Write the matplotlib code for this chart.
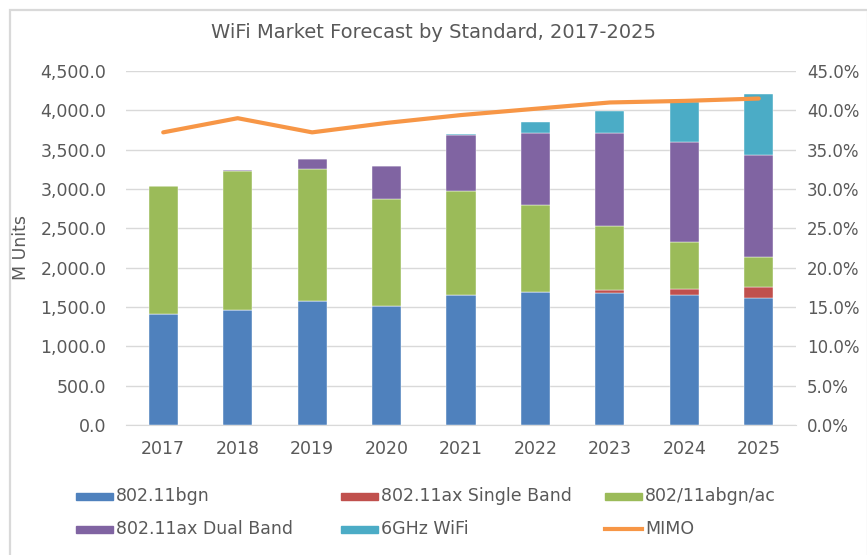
import matplotlib
matplotlib.use("Agg")
import matplotlib.pyplot as plt
import numpy as np
from matplotlib.patches import Rectangle
from matplotlib.lines import Line2D
from matplotlib.ticker import FuncFormatter

years = ["2017", "2018", "2019", "2020", "2021", "2022", "2023", "2024", "2025"]
bgn = [1415, 1466, 1571, 1508, 1653, 1686, 1678, 1653, 1618]
ax_single = [0, 0, 0, 0, 0, 0, 33, 80, 140]
abgn_ac = [1627, 1758, 1687, 1369, 1322, 1111, 814, 593, 378]
ax_dual = [0, 13, 127, 415, 712, 910, 1182, 1276, 1296]
wifi6ghz = [0, 0, 0, 0, 12, 149, 280, 499, 780]
mimo = [37.2, 39.0, 37.2, 38.4, 39.4, 40.2, 41.0, 41.2, 41.5]

series = [
    ("802.11bgn", bgn, "#4f81bd"),
    ("802.11ax Single Band", ax_single, "#c0504d"),
    ("802/11abgn/ac", abgn_ac, "#9bbb59"),
    ("802.11ax Dual Band", ax_dual, "#8064a2"),
    ("6GHz WiFi", wifi6ghz, "#4bacc6"),
]
mimo_color = "#f79646"
txt = "#595959"
font = "DejaVu Sans"
fs = 12.5

W, H = 867, 555
fig = plt.figure(figsize=(W / 100, H / 100), dpi=100)
fig.patch.set_facecolor("white")
fig.add_artist(Rectangle((10 / W, -0.01), (W - 9) / W, (H - 10) / H + 0.01, transform=fig.transFigure,
                         fill=False, edgecolor="#d9d9d9", linewidth=1.6))

ax = fig.add_axes([126 / W, (H - 425) / H, (796 - 126) / W, (425 - 71) / H])
x = np.arange(len(years))
bottom = np.zeros(len(years))
for name, vals, col in series:
    v = np.array(vals, dtype=float)
    ax.bar(x, v, 0.39, bottom=bottom, color=col, edgecolor="white", linewidth=0.3, zorder=3)
    bottom += v

ax.set_xlim(-0.5, len(years) - 0.5)
ax.set_ylim(0, 4500)
ax.set_yticks(np.arange(0, 4501, 500))
ax.yaxis.set_major_formatter(FuncFormatter(lambda v, p: f"{v:,.1f}"))
ax.set_xticks(x)
ax.set_xticklabels(years)
ax.grid(axis="y", color="#d9d9d9", linewidth=1, zorder=0)
for s in ["top", "right", "left"]:
    ax.spines[s].set_visible(False)
ax.spines["bottom"].set_color("#d9d9d9")
ax.tick_params(axis="both", length=0, colors=txt, labelsize=fs)
ax.tick_params(axis="x", pad=11)
ax.tick_params(axis="y", pad=14)
for lab in ax.get_xticklabels() + ax.get_yticklabels():
    lab.set_fontfamily(font)
ax.set_ylabel("M Units", color=txt, fontsize=fs, fontfamily=font)
ax.yaxis.set_label_coords(-(126 - 30) / (796 - 126), 0.5)

ax2 = ax.twinx()
ax2.plot(x, np.array(mimo) / 100, color=mimo_color, linewidth=3, zorder=5, solid_capstyle="round")
ax2.set_ylim(0, 0.45)
ax2.set_yticks(np.arange(0, 0.451, 0.05))
ax2.yaxis.set_major_formatter(FuncFormatter(lambda v, p: f"{v*100:.1f}%"))
for s in ["top", "right", "left", "bottom"]:
    ax2.spines[s].set_visible(False)
ax2.tick_params(axis="y", length=0, colors=txt, labelsize=12, pad=8)
for lab in ax2.get_yticklabels():
    lab.set_fontfamily(font)

fig.text(0.5, (H - 33) / H, "WiFi Market Forecast by Standard, 2017-2025", ha="center", va="center",
         color=txt, fontsize=14, fontfamily=font)

# legend
rows = [496, 529]
cols = [76, 341, 605]
items = [
    (series[0][0], series[0][2], "patch", 0, 0),
    (series[1][0], series[1][2], "patch", 0, 1),
    (series[2][0], series[2][2], "patch", 0, 2),
    (series[3][0], series[3][2], "patch", 1, 0),
    (series[4][0], series[4][2], "patch", 1, 1),
    ("MIMO", mimo_color, "line", 1, 2),
]
for name, col, kind, r, c in items:
    x0 = cols[c]
    yc = rows[r]
    if kind == "patch":
        fig.add_artist(Rectangle((x0 / W, (H - yc - 3.5) / H), 37 / W, 7 / H,
                                 transform=fig.transFigure, color=col))
    else:
        fig.add_artist(Line2D([x0 / W, (x0 + 37) / W], [(H - yc) / H] * 2, transform=fig.transFigure,
                              color=col, linewidth=3))
    fig.text((x0 + 40) / W, (H - yc) / H, name, ha="left", va="center", color=txt,
             fontsize=fs, fontfamily=font)

fig.savefig("out.png", dpi=100)
